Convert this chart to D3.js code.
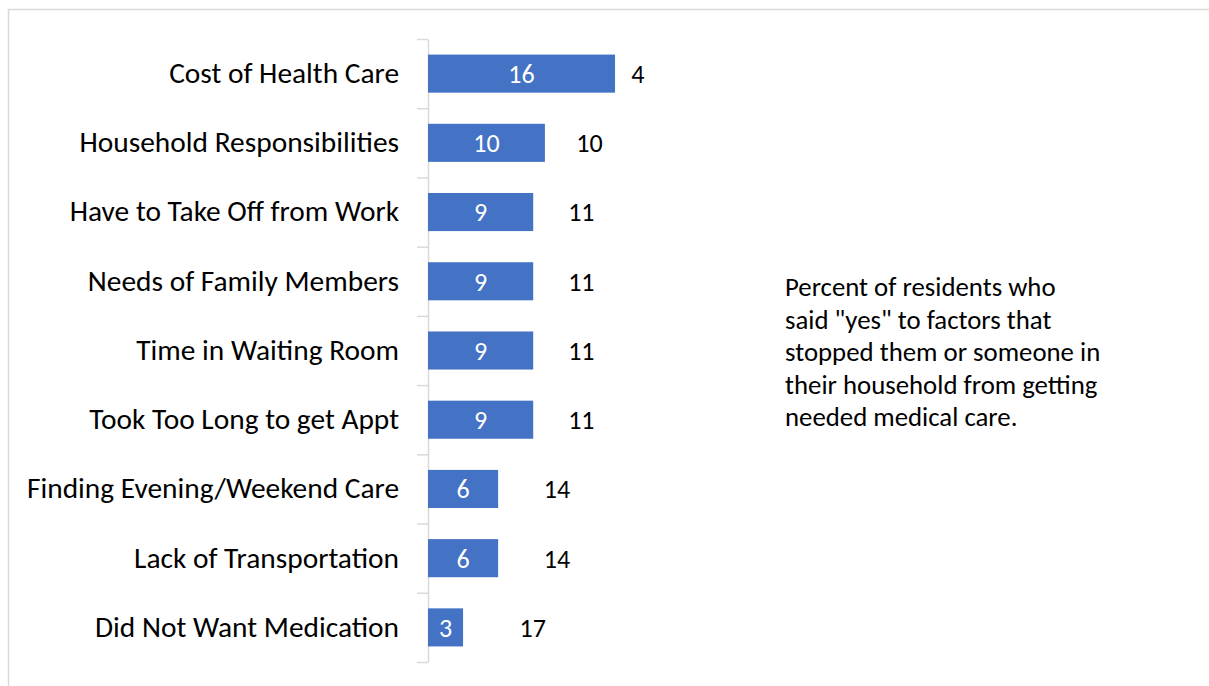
<!DOCTYPE html>
<html>
<head>
<meta charset="utf-8">
<script src="https://cdn.jsdelivr.net/npm/d3@7"></script>
<style>
  html, body { margin: 0; padding: 0; background: #fff; }
  svg { display: block; }
  text { font-family: Carlito, Calibri, Lato, "Noto Sans", sans-serif; }
</style>
</head>
<body>
<svg id="chart" width="1209" height="686"></svg>
<script>
// Barriers to getting medical care (percent of residents)
const categories = [
  "Cost of Health Care",
  "Household Responsibilities",
  "Have to Take Off from Work",
  "Needs of Family Members",
  "Time in Waiting Room",
  "Took Too Long to get Appt",
  "Finding Evening/Weekend Care",
  "Lack of Transportation",
  "Did Not Want Medication"
];
const yesValues  = [16, 10, 9, 9, 9, 9, 6, 6, 3];
const restValues = [4, 10, 11, 11, 11, 11, 14, 14, 17];
const noteLines = [
  "Percent of residents who",
  "said \"yes\" to factors that",
  "stopped them or someone in",
  "their household from getting",
  "needed medical care."
];

const svg = d3.select("#chart");
const W = 1209, H = 686;

// outer frame
svg.append("rect")
  .attr("x", 8.5).attr("y", 9.5)
  .attr("width", W + 20).attr("height", H + 20)
  .attr("fill", "none").attr("stroke", "#D9D9D9").attr("stroke-width", 1.5);

const plot = { left: 428, top: 39, bottom: 662 };

const x = d3.scaleLinear().domain([0, 20]).range([plot.left, plot.left + 233.8]);
const restScale = d3.scaleLinear().domain([0, 20]).range([0, 144]);

const y = d3.scaleBand()
  .domain(categories)
  .range([plot.top, plot.bottom])
  .paddingInner(0.45)
  .paddingOuter(0.225);

// category axis with tick marks on the band boundaries
const yEdge = d3.scaleLinear().domain([0, categories.length]).range([plot.top, plot.bottom]);
const axisG = svg.append("g")
  .attr("transform", `translate(${plot.left},0)`)
  .call(d3.axisLeft(yEdge)
    .tickValues(d3.range(categories.length + 1))
    .tickFormat("")
    .tickSize(11)
    .tickSizeOuter(0));
axisG.selectAll("path, line").attr("stroke", "#D9D9D9").attr("stroke-width", 1.5);

// category labels
svg.append("g").selectAll("text")
  .data(categories)
  .join("text")
  .attr("x", 399)
  .attr("y", d => y(d) + y.bandwidth() / 2)
  .attr("dy", "0.32em")
  .attr("text-anchor", "end")
  .attr("font-size", 29.4)
  .attr("fill", "#000")
  .text(d => d);

// "yes" bars
svg.append("g").selectAll("rect")
  .data(categories)
  .join("rect")
  .attr("x", x(0))
  .attr("y", d => y(d))
  .attr("width", (d, i) => x(yesValues[i]) - x(0))
  .attr("height", y.bandwidth())
  .attr("fill", "#4472C4");

// values inside bars
svg.append("g").selectAll("text")
  .data(categories)
  .join("text")
  .attr("x", (d, i) => (x(0) + x(yesValues[i])) / 2)
  .attr("y", d => y(d) + y.bandwidth() / 2)
  .attr("dy", "0.36em")
  .attr("text-anchor", "middle")
  .attr("font-size", 26)
  .attr("fill", "#fff")
  .text((d, i) => yesValues[i]);

// remaining share labels (unfilled segment)
svg.append("g").selectAll("text")
  .data(categories)
  .join("text")
  .attr("x", (d, i) => x(yesValues[i]) + 8.5 + restScale(restValues[i]) / 2)
  .attr("y", d => y(d) + y.bandwidth() / 2)
  .attr("dy", "0.36em")
  .attr("text-anchor", "middle")
  .attr("font-size", 26)
  .attr("fill", "#000")
  .text((d, i) => restValues[i]);

// explanatory note
const note = svg.append("text")
  .attr("x", 785)
  .attr("y", 296)
  .attr("font-size", 26.8)
  .attr("fill", "#000");
note.selectAll("tspan")
  .data(noteLines)
  .join("tspan")
  .attr("x", 785)
  .attr("dy", (d, i) => i === 0 ? 0 : 32.6)
  .text(d => d);
</script>
</body>
</html>
